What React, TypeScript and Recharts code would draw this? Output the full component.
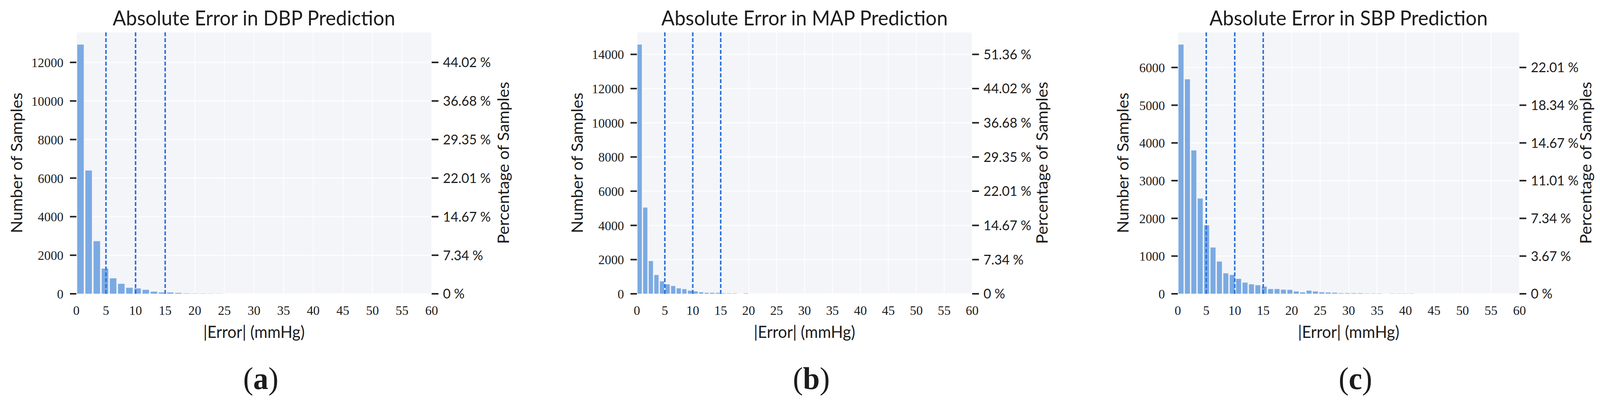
import { Bar, CartesianGrid, ComposedChart, Line, ReferenceLine, XAxis, YAxis } from 'recharts';

// |error| axis, shared by the three panels
const errorTicks = [0, 5, 10, 15, 20, 25, 30, 35, 40, 45, 50, 55, 60];
const thresholds = [5, 10, 15];

// histogram counts per bin
const dbpCounts = [12930, 6400, 2735, 1313, 810, 525, 320, 285, 215, 120, 80, 78, 55, 28, 22, 20, 18, 15];
const mapCounts = [14580, 5050, 1920, 1105, 735, 560, 463, 327, 280, 190, 150, 98, 68, 68, 65, 38, 32, 30, 0, 35];
const sbpCounts = [
  6610, 5690, 3805, 2530, 1820, 1230, 858, 547, 504, 400, 300, 256, 230, 195, 130, 130, 113, 108, 65, 42, 87, 66, 44,
  38, 32, 20, 20, 20, 20, 12, 12, 12, 0, 10, 10, 10, 10,
];

// bin widths in mmHg
const dbpBinWidth = 1.378;
const mapBinWidth = 1.0;
const sbpBinWidth = 1.124;

// left axis ticks and matching right-axis percentage labels
const dbpCountTicks = [0, 2000, 4000, 6000, 8000, 10000, 12000];
const mapCountTicks = [0, 2000, 4000, 6000, 8000, 10000, 12000, 14000];
const sbpCountTicks = [0, 1000, 2000, 3000, 4000, 5000, 6000];

const dbpPercentLabels = ['0 %', '7.34 %', '14.67 %', '22.01 %', '29.35 %', '36.68 %', '44.02 %'];
const mapPercentLabels = ['0 %', '7.34 %', '14.67 %', '22.01 %', '29.35 %', '36.68 %', '44.02 %', '51.36 %'];
const sbpPercentLabels = ['0 %', '3.67 %', '7.34 %', '11.01 %', '14.67 %', '18.34 %', '22.01 %'];

const titles = ['Absolute Error in DBP Prediction', 'Absolute Error in MAP Prediction', 'Absolute Error in SBP Prediction'];
const captions = ['a', 'b', 'c'];

const FIG_W = 4233;
const FIG_H = 1038;
const PLOT_TOP = 82;
const PLOT_BOTTOM = 753;

const SANS = 'Lato, "Open Sans", sans-serif';
const SERIF = '"Liberation Serif", "DejaVu Serif", serif';
const INK = '#1c1c1c';
const BAR = '#7baae2';
const DASH = '#2b70dc';

type PanelSpec = {
  title: string;
  caption: string;
  counts: number[];
  binWidth: number;
  countTicks: number[];
  percentLabels: string[];
  chartLeft: number;
  chartRight: number;
  plotLeft: number;
  plotRight: number;
  leftLabelX: number;
  rightLabelX: number;
};

const panels: PanelSpec[] = [
  {
    title: titles[0],
    caption: captions[0],
    counts: dbpCounts,
    binWidth: dbpBinWidth,
    countTicks: dbpCountTicks,
    percentLabels: dbpPercentLabels,
    chartLeft: 0,
    chartRight: 1411,
    plotLeft: 202,
    plotRight: 1142,
    leftLabelX: 59,
    rightLabelX: 1347,
  },
  {
    title: titles[1],
    caption: captions[1],
    counts: mapCounts,
    binWidth: mapBinWidth,
    countTicks: mapCountTicks,
    percentLabels: mapPercentLabels,
    chartLeft: 1411,
    chartRight: 2822,
    plotLeft: 1685,
    plotRight: 2572,
    leftLabelX: 1542,
    rightLabelX: 2772,
  },
  {
    title: titles[2],
    caption: captions[2],
    counts: sbpCounts,
    binWidth: sbpBinWidth,
    countTicks: sbpCountTicks,
    percentLabels: sbpPercentLabels,
    chartLeft: 2822,
    chartRight: 4233,
    plotLeft: 3116,
    plotRight: 4020,
    leftLabelX: 2986,
    rightLabelX: 4210,
  },
];

function Panel({ p }: { p: PanelSpec }) {
  const data = p.counts.map((count, i) => ({ center: (i + 0.5) * p.binWidth, count }));
  const yMax = Math.max(...p.counts) * 1.05;
  const pct = (v: number) => p.percentLabels[p.countTicks.indexOf(v)] ?? '';

  return (
    <div style={{ position: 'absolute', left: p.chartLeft, top: 0 }}>
      <ComposedChart
        width={p.chartRight - p.chartLeft}
        height={FIG_H}
        data={data}
        margin={{ top: PLOT_TOP, right: 0, bottom: 0, left: 0 }}
        barCategoryGap="9%"
      >
        <CartesianGrid yAxisId="count" horizontal={false} fill="#f4f5f8" fillOpacity={1} stroke="#ffffff" strokeWidth={2} />
        <XAxis
          dataKey="center"
          type="number"
          domain={[0, 60]}
          ticks={errorTicks}
          allowDataOverflow
          interval={0}
          axisLine={false}
          tickLine={false}
          tickSize={20}
          tickMargin={10}
          height={FIG_H - PLOT_BOTTOM}
          tick={{ fontFamily: SERIF, fontSize: 34, fill: INK }}
        />
        <YAxis
          yAxisId="count"
          type="number"
          domain={[0, yMax]}
          ticks={p.countTicks}
          interval={0}
          axisLine={false}
          tickSize={17}
          tickMargin={17}
          tickLine={{ stroke: '#222', strokeWidth: 4 }}
          width={p.plotLeft - p.chartLeft}
          tick={{ fontFamily: SERIF, fontSize: 34, fill: INK }}
        />
        <YAxis
          yAxisId="pct"
          orientation="right"
          type="number"
          domain={[0, yMax]}
          allowDataOverflow
          ticks={p.countTicks}
          interval={0}
          axisLine={false}
          tickSize={18}
          tickMargin={12}
          tickLine={{ stroke: '#222', strokeWidth: 4 }}
          tickFormatter={pct}
          width={p.chartRight - p.plotRight}
          tick={{ fontFamily: SANS, fontSize: 35, fill: INK }}
        />
        <Bar yAxisId="count" dataKey="count" fill={BAR} stroke="#ffffff" strokeOpacity={0.5} strokeWidth={1} isAnimationActive={false} />
        {/* invisible twin so the percentage axis gets its scale */}
        <Line
          yAxisId="pct"
          dataKey="count"
          stroke="none"
          dot={false}
          activeDot={false}
          legendType="none"
          isAnimationActive={false}
        />
        <CartesianGrid yAxisId="count" vertical={false} stroke="#ffffff" strokeOpacity={0.75} strokeWidth={3} />
        {thresholds.map((t) => (
          <ReferenceLine key={t} yAxisId="count" x={t} stroke={DASH} strokeWidth={4} strokeDasharray="10 5" />
        ))}
      </ComposedChart>
    </div>
  );
}

export default function App() {
  // the browser caps the viewport width, so fit the figure into whatever we get
  const vw = typeof window !== 'undefined' ? window.innerWidth : FIG_W;
  const vh = typeof window !== 'undefined' ? window.innerHeight : FIG_H;
  const sx = Math.min(1, vw / FIG_W);
  const sy = Math.min(1, vh / FIG_H);
  return (
    <div
      style={{
        position: 'absolute',
        left: 0,
        top: 0,
        width: FIG_W,
        height: FIG_H,
        background: '#fff',
        overflow: 'hidden',
        transform: `scale(${sx}, ${sy})`,
        transformOrigin: '0 0',
      }}
    >
      <style>{'html, body { margin: 0; overflow: hidden; }'}</style>
      {panels.map((p) => (
        <Panel key={p.title} p={p} />
      ))}
      <svg width={FIG_W} height={FIG_H} style={{ position: 'absolute', left: 0, top: 0, pointerEvents: 'none' }}>
        {panels.map((p) => {
          const mid = (p.plotLeft + p.plotRight) / 2;
          const midY = (PLOT_TOP + PLOT_BOTTOM) / 2;
          return (
            <g key={p.title} fill={INK}>
              <text x={mid} y={65} textAnchor="middle" fontFamily={SANS} fontSize={52}>
                {p.title}
              </text>
              <text x={mid} y={866} textAnchor="middle" fontFamily={SANS} fontSize={42}>
                |Error| (mmHg)
              </text>
              <text
                x={p.leftLabelX}
                y={midY}
                textAnchor="middle"
                fontFamily={SANS}
                fontSize={42}
                transform={`rotate(-90 ${p.leftLabelX} ${midY})`}
              >
                Number of Samples
              </text>
              <text
                x={p.rightLabelX}
                y={midY}
                textAnchor="middle"
                fontFamily={SANS}
                fontSize={42}
                transform={`rotate(-90 ${p.rightLabelX} ${midY})`}
              >
                Percentage of Samples
              </text>
              <text x={mid + 18} y={997} textAnchor="middle" fontFamily={SERIF} fontSize={80}>
                (<tspan fontWeight="bold">{p.caption}</tspan>)
              </text>
            </g>
          );
        })}
      </svg>
    </div>
  );
}
